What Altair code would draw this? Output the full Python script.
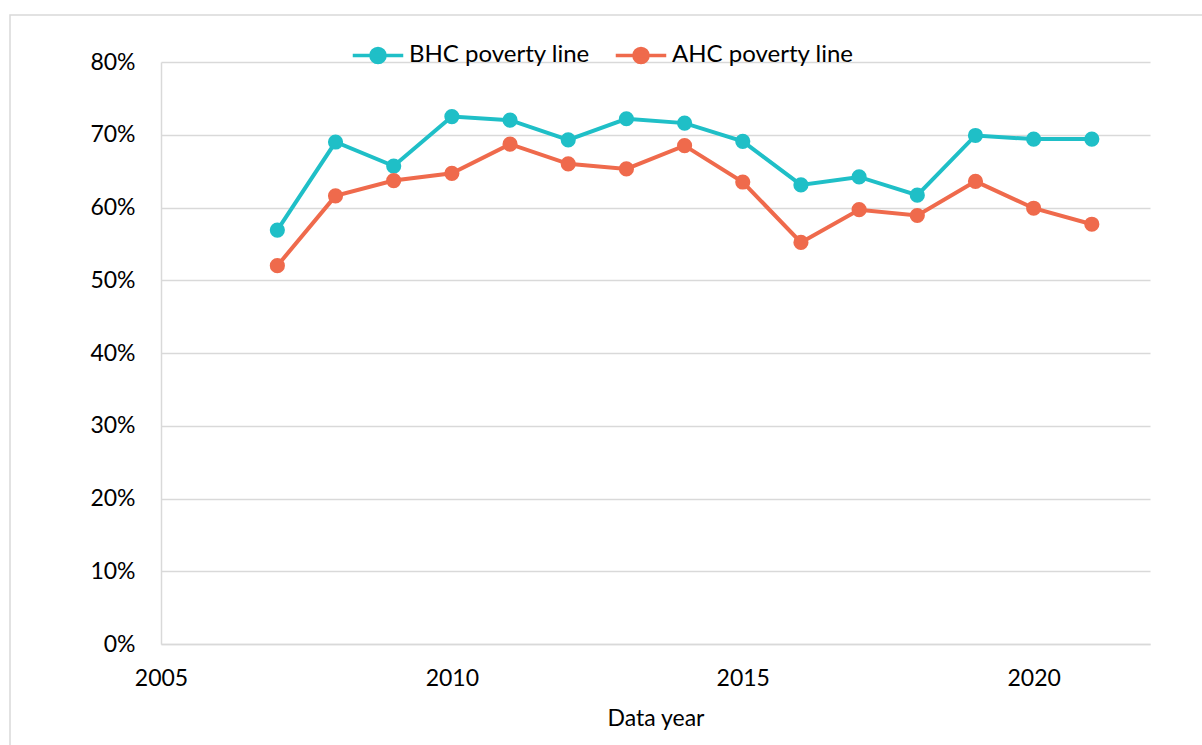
import altair as alt
import pandas as pd

years = list(range(2007, 2022))
bhc = [56.9, 69.0, 65.7, 72.5, 72.0, 69.3, 72.2, 71.6, 69.1, 63.1, 64.2, 61.7, 69.9, 69.4, 69.4]
ahc = [52.0, 61.6, 63.7, 64.7, 68.7, 66.0, 65.3, 68.5, 63.5, 55.2, 59.7, 58.9, 63.6, 59.9, 57.7]
series_names = ["BHC poverty line", "AHC poverty line"]
series_colors = ["#1FBFC7", "#EF6A4C"]

rows = []
for name, vals in zip(series_names, [bhc, ahc]):
    for y, v in zip(years, vals):
        rows.append({"year": y, "share": v / 100.0, "series": name})
df = pd.DataFrame(rows)

FONT = "Lato"
GRID = "#d9d9d9"

# line-with-dot glyph used for the legend entries
legend_glyph = "M-1,0H1M0.28,0A0.28,0.28 0 1,1 -0.28,0A0.28,0.28 0 1,1 0.28,0Z"

color = alt.Color(
    "series:N",
    scale=alt.Scale(domain=series_names, range=series_colors),
    legend=alt.Legend(
        title=None,
        orient="none",
        direction="horizontal",
        legendX=190,
        legendY=-34,
        symbolType=legend_glyph,
        symbolSize=2550,
        symbolStrokeWidth=3.5,
        labelFont=FONT,
        labelFontSize=24,
        labelColor="#000000",
        labelOffset=4,
        labelLimit=400,
        columnPadding=18,
        symbolOpacity=1,
    ),
)

x = alt.X(
    "year:Q",
    scale=alt.Scale(domain=[2005, 2022], nice=False, zero=False),
    axis=alt.Axis(
        title="Data year",
        values=[2005, 2010, 2015, 2020],
        format="d",
        grid=False,
        ticks=False,
        labelFlush=False,
        domainColor=GRID,
        domainWidth=1.5,
        labelFont=FONT,
        labelFontSize=23,
        labelColor="#000000",
        labelPadding=23,
        titleFont=FONT,
        titleFontSize=23,
        titleFontWeight="normal",
        titleColor="#000000",
        titlePadding=17,
    ),
)

y = alt.Y(
    "share:Q",
    scale=alt.Scale(domain=[0, 0.8], nice=False),
    axis=alt.Axis(
        title=None,
        values=[i / 10 for i in range(9)],
        format=".0%",
        grid=True,
        gridColor=GRID,
        gridWidth=1.5,
        ticks=False,
        labelFlush=False,
        domainColor=GRID,
        domainWidth=1.5,
        labelFont=FONT,
        labelFontSize=23,
        labelColor="#000000",
        labelPadding=26,
    ),
)

lines = alt.Chart(df).mark_line(strokeWidth=4).encode(x=x, y=y, color=color)
points = alt.Chart(df).mark_circle(size=230, opacity=1).encode(x=x, y=y, color=color)

# light outer frame around the figure
frame = alt.Chart(pd.DataFrame({"k": [0]})).mark_rect(
    fill=None, stroke=GRID, strokeWidth=1.5
).encode(
    x=alt.value(-151), x2=alt.value(1100), y=alt.value(-47), y2=alt.value(720)
)

chart = (
    alt.layer(frame, lines, points)
    .properties(
        width=989,
        height=582,
        autosize=alt.AutoSizeParams(type="none"),
        padding={"left": 161, "top": 62, "right": 52, "bottom": 101},
        background="#ffffff",
    )
    .configure_view(stroke=None)
)

chart.save("out.html", embed_options={"renderer": "svg", "actions": False})
